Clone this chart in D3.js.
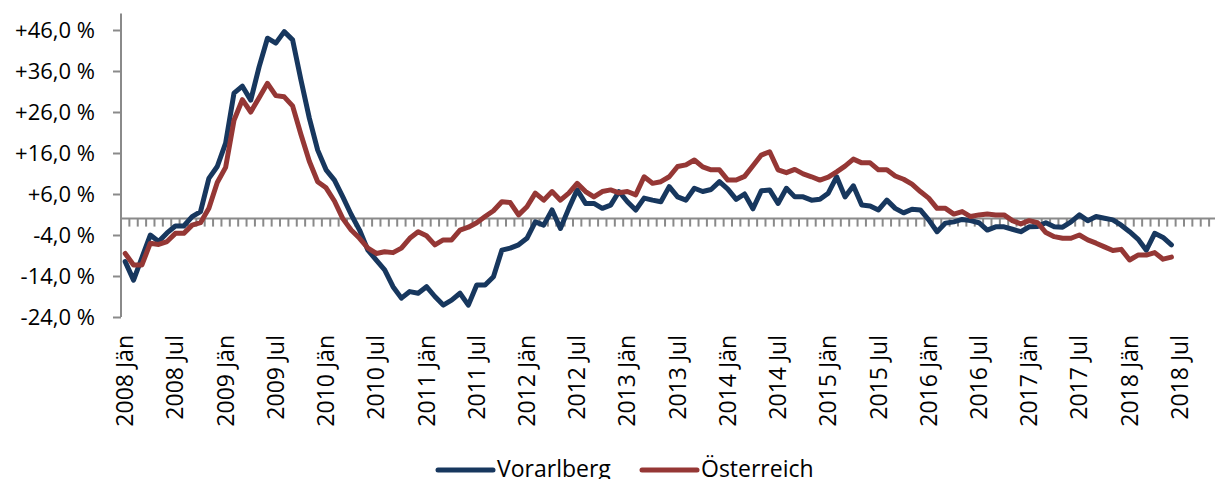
<!DOCTYPE html>
<html><head><meta charset="utf-8">
<script src="https://cdn.jsdelivr.net/npm/d3@7"></script>
<style>
html,body{margin:0;padding:0;background:#fff;overflow:hidden;}
svg{display:block;font-family:"Open Sans",sans-serif;}
</style></head>
<body>
<svg id="c" width="1215" height="479"></svg>
<script>
const years = [2008,2009,2010,2011,2012,2013,2014,2015,2016,2017,2018];
const monthNames = ["Jän","Feb","Mär","Apr","Mai","Jun","Jul","Aug","Sep","Okt","Nov","Dez"];
const lastMonthIndex = 10; // categories run through Nov 2018
const seriesNames = ["Vorarlberg","Österreich"];
const seriesColors = ["#17375E","#953735"];
const yTicks = [-24,-14,-4,6,16,26,36,46];

const vorarlberg = [-10.5,-15,-9.5,-4,-5.6,-3.5,-1.8,-1.8,0.5,1.7,9.8,12.7,
 18.4,30.6,32.3,28.9,37,44,42.8,45.6,43.6,33.8,24.5,16.7,
 11.9,9.4,5.3,1,-2.8,-7.7,-10.1,-12.5,-16.6,-19.4,-17.8,-18.2,
 -16.6,-19,-21.1,-19.9,-18.2,-21.1,-16.2,-16.2,-14.2,-7.7,-7.2,-6.4,
 -4.8,-0.8,-1.6,2.1,-2.4,2.5,7,3.7,3.7,2.5,3.3,6.6,
 4.1,2.1,5,4.5,4.1,7.8,5.3,4.5,7.4,6.6,7.1,9,
 7.2,4.7,6,2.4,6.8,7,3.7,7.4,5.3,5.3,4.5,4.7,
 6.2,10.2,5.3,8,3.3,3.1,2.1,4.5,2.5,1.4,2.3,2.1,
 -0.3,-3.2,-1.1,-0.8,-0.2,-0.5,-1,-2.8,-2,-2,-2.6,-3.2,
 -2,-1.9,-1,-2,-2.1,-0.8,0.9,-0.5,0.5,0.1,-0.3,-1.6,
 -3.2,-5,-7.7,-3.6,-4.6,-6.4];
const oesterreich = [-8.5,-11.3,-11.3,-6,-6.3,-5.6,-3.6,-3.6,-1.6,-1,2.5,8.8,
 12.5,24,29,26,29.5,33,30,29.7,27.5,20.5,14,9,
 7.5,4.3,0,-2.8,-4.8,-7.2,-8.5,-8.1,-8.3,-7.2,-4.8,-3.2,
 -4.2,-6.4,-5.2,-5.2,-2.8,-2.1,-1,0.5,1.9,4.1,3.9,0.9,
 2.9,6.2,4.5,6.6,4.5,6.2,8.6,6.6,5.3,6.6,7,6.3,
 6.6,5.8,10.2,8.6,9,10.2,12.7,13.1,14.3,12.6,11.9,11.9,
 9.4,9.4,10.3,12.9,15.5,16.3,11.9,11.2,12,10.9,10.2,9.4,
 10.1,11.4,12.8,14.5,13.6,13.6,11.9,11.9,10.4,9.6,8.4,6.6,
 5,2.5,2.5,1.1,1.7,0.5,0.9,1.1,0.9,0.9,-0.5,-1.3,
 -0.5,-1,-3.4,-4.4,-4.8,-4.8,-4,-5.2,-6,-6.9,-7.8,-7.5,
 -10.1,-8.9,-8.9,-8.3,-9.9,-9.4];

// category labels
const categories = [];
years.forEach(y => monthNames.forEach((m, i) => {
  if (y < 2018 || i <= lastMonthIndex) categories.push(y + " " + m);
}));

const svg = d3.select("#c");
const x = d3.scaleBand().domain(categories).range([121, 121 + categories.length * 8.37]).padding(0);
const y = d3.scaleLinear().domain([-24, 50]).range([317, 13.6]);
const axisColor = "#8a8a8a";

// y axis
const yAxis = d3.axisLeft(y).tickValues(yTicks).tickSize(8).tickPadding(18)
  .tickFormat(d => (d > 0 ? "+" : "") + d3.format(".1f")(d).replace("−", "-").replace(".", ",") + " %");
const gy = svg.append("g").attr("transform", "translate(121,0)").call(yAxis);
gy.select(".domain").remove();
gy.selectAll(".tick line").attr("stroke", axisColor).attr("stroke-width", 2);
gy.selectAll(".tick text").attr("font-size", 22).attr("fill", "#000").attr("font-family", "'Open Sans',sans-serif");
svg.append("line").attr("x1", 121).attr("x2", 121).attr("y1", y(50)).attr("y2", y(-24))
  .attr("stroke", axisColor).attr("stroke-width", 2);

// x axis at zero
const y0 = y(0);
svg.append("line").attr("x1", 121).attr("x2", x.range()[1]).attr("y1", y0).attr("y2", y0)
  .attr("stroke", axisColor).attr("stroke-width", 2);
svg.append("g").selectAll("line").data(categories).join("line")
  .attr("x1", d => x(d) + x.bandwidth()).attr("x2", d => x(d) + x.bandwidth())
  .attr("y1", y0).attr("y2", y0 + 8).attr("stroke", axisColor).attr("stroke-width", 2);

// x labels
svg.append("g").selectAll("text")
  .data(categories.filter(c => c.endsWith("Jän") || c.endsWith("Jul")))
  .join("text")
  .attr("transform", d => `translate(${x(d) + x.bandwidth() / 2},335) rotate(-90)`)
  .attr("text-anchor", "end").attr("dy", "0.35em")
  .attr("font-size", 23).attr("fill", "#000")
  .text(d => d);

// lines
const seriesData = [vorarlberg, oesterreich];
const line = d3.line().x((d, i) => x(categories[i]) + x.bandwidth() / 2).y(d => y(d));
seriesData.forEach((s, k) => {
  svg.append("path").datum(s).attr("d", line).attr("fill", "none")
    .attr("stroke", seriesColors[k]).attr("stroke-width", 5)
    .attr("stroke-linejoin", "round").attr("stroke-linecap", "round");
});

// legend
const legendX = [438, 642];
seriesNames.forEach((n, k) => {
  svg.append("line").attr("x1", legendX[k]).attr("x2", legendX[k] + 55).attr("y1", 470).attr("y2", 470)
    .attr("stroke", seriesColors[k]).attr("stroke-width", 5).attr("stroke-linecap", "round");
  svg.append("text").attr("x", legendX[k] + 59).attr("y", 477).attr("font-size", 23).attr("fill", "#000").text(n);
});
</script>
</body></html>
